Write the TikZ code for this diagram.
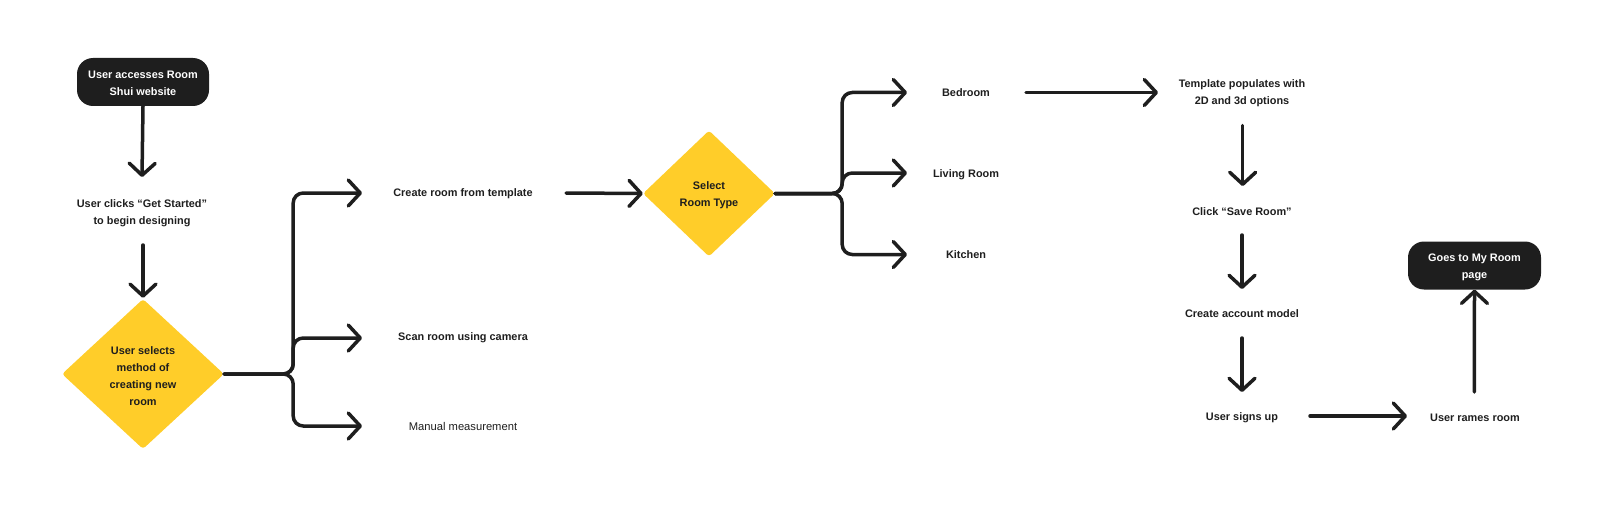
\documentclass[tikz,border=0pt]{standalone}
\usepackage{fontspec}
\setmainfont{Liberation Sans}
\usetikzlibrary{arrows.meta,shapes.geometric,calc}
\definecolor{ink}{HTML}{1E1E1E}
\definecolor{yel}{HTML}{FFCD29}
\newcommand{\lowr}[1]{\rule{0pt}{#1}}
\begin{document}
\begin{tikzpicture}[x=1pt,y=-1pt,
  lbl/.style={text=ink, font=\fontsize{10.9pt}{17pt}\selectfont\bfseries, align=center, inner sep=0pt},
  lblr/.style={text=ink, font=\fontsize{11.2pt}{17pt}\selectfont, align=center, inner sep=0pt},
  pill/.style={fill=ink, text=white, rounded corners=16pt, minimum width=132pt, minimum height=48pt,
    font=\fontsize{10.9pt}{17pt}\selectfont\bfseries, align=center, inner sep=0pt},
  dia/.style={diamond, fill=yel, rounded corners=3pt, inner sep=0pt, text=ink,
    font=\fontsize{10.9pt}{17pt}\selectfont\bfseries, align=center},
  arr/.style={draw=ink, line width=3.5pt, line cap=round, line join=round,
    -{Straight Barb[length=12pt,width=26pt,round]}},
  conn/.style={arr, rounded corners=10pt}]
\useasboundingbox (0,0) rectangle (1600,508);

% nodes
\node[pill] (start) at (143,82) {\lowr{11pt}User accesses Room\\Shui website};
\node[lbl] (clicks) at (142,213) {User clicks “Get Started”\\to begin designing};
\node[dia, minimum width=162pt, minimum height=150pt] (d1) at (143,374) {\lowr{12pt}User selects\\method of\\creating new\\room};
\node[lbl] (tmpl) at (463,194) {Create room from template};
\node[lbl] (scan) at (463,338) {Scan room using camera};
\node[lblr] (manual) at (463,426) {Manual measurement};
\node[dia, minimum width=132pt, minimum height=126pt] (d2) at (709,193.5) {\lowr{12pt}Select\\Room Type};
\node[lbl] (bed) at (966,92.5) {Bedroom};
\node[lbl] (living) at (966,175) {Living Room};
\node[lbl] (kitchen) at (966,254.5) {Kitchen};
\node[lbl] (popul) at (1242,93.5) {Template populates with\\2D and 3d options};
\node[lbl] (save) at (1242,212) {Click “Save Room”};
\node[lbl] (account) at (1242,314) {Create account model};
\node[lbl] (signs) at (1242,417.5) {User signs up};
\node[lbl] (rames) at (1475,417.5) {User rames room};
\node[pill, minimum width=133pt] (goes) at (1474.5,265.5) {\lowr{11pt}Goes to My Room\\page};

% connectors
\draw[arr] (start.south) -- ($(clicks.center)+(0,-36)$);
\draw[arr] ($(clicks.center)+(1,32)$) -- ($(d1.north)+(0,-1)$);
\draw[conn] (d1.east) -- ++(69,0) |- ($(tmpl.center)+(-101,-1)$);
\draw[conn] (d1.east) -- ++(69,0) |- ($(scan.center)+(-101,0)$);
\draw[conn] (d1.east) -- ++(69,0) |- ($(manual.center)+(-101,0)$);
\draw[arr] ($(tmpl.center)+(103,-1)$) -- (d2.west);
\draw[conn] (d2.east) -- ++(67,0) |- ($(bed.center)+(-59,0)$);
\draw[conn] (d2.east) -- ++(67,0) |- ($(living.center)+(-59,-2)$);
\draw[conn] (d2.east) -- ++(67,0) |- ($(kitchen.center)+(-59,0)$);
\draw[arr] ($(bed.center)+(60,0)$) -- ($(popul.center)+(-84,-1)$);
\draw[arr] ($(popul.center)+(0.7,32)$) -- ($(save.center)+(0.7,-26)$);
\draw[arr] ($(save.center)+(0,23)$) -- ($(account.center)+(0,-25)$);
\draw[arr] ($(account.center)+(0,24)$) -- ($(signs.center)+(0,-25.5)$);
\draw[arr] ($(signs.center)+(68,-1.5)$) -- ($(rames.center)+(-68,-1.5)$);
\draw[arr] ($(rames.center)+(-0.7,-25.5)$) -- (goes.south);
\end{tikzpicture}
\end{document}
